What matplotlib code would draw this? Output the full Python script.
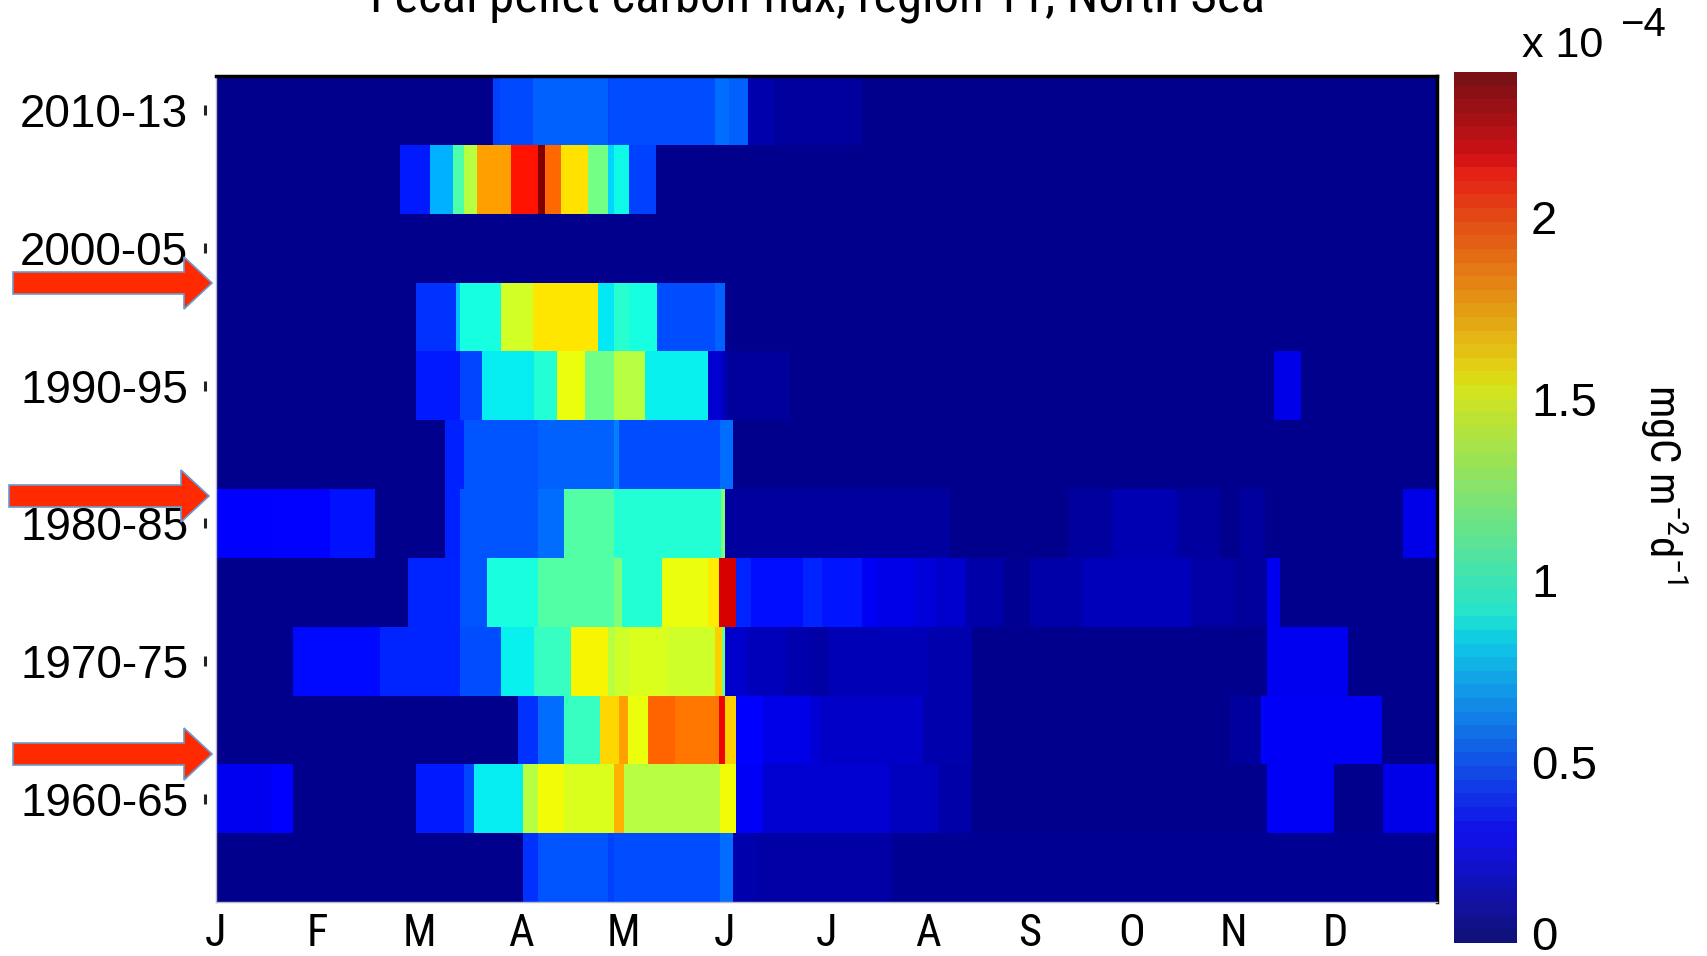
import numpy as np
import matplotlib
matplotlib.use("Agg")
import matplotlib.pyplot as plt
from matplotlib import font_manager as fm
from matplotlib.colors import Normalize, ListedColormap
from matplotlib.cm import ScalarMappable
from matplotlib.patches import FancyArrow
import matplotlib.transforms as mtrans

# ---------------- data (flux, x 1e-4 mgC m-2 d-1) ----------------
periods = ["2010-13", "2005-10", "2000-05", "1995-00", "1990-95", "1985-90",
           "1980-85", "1975-80", "1970-75", "1965-70", "1960-65", "1955-60"]
labelled_periods = ["2010-13", "2000-05", "1990-95", "1980-85", "1970-75", "1960-65"]
months = ["J", "F", "M", "A", "M", "J", "J", "A", "S", "O", "N", "D"]

# segment edges in months (0 = 1 Jan, 12 = 31 Dec) and values per segment
e_2010_13 = [0, 2.72, 2.79, 3.12, 3.85, 3.87, 4.905, 5.045, 5.23, 5.48, 6.345, 12]
v_2010_13 = [0.03, 0.45, 0.47, 0.53, 0.46, 0.48, 0.56, 0.53, 0.10, 0.07, 0.03]

e_2005_10 = [0, 1.81, 2.10, 2.33, 2.44, 2.57, 2.90, 3.16, 3.23, 3.39, 3.66, 3.85, 3.91, 4.06, 4.32, 12]
v_2005_10 = [0.03, 0.36, 0.72, 1.06, 1.37, 1.78, 2.13, 2.40, 1.92, 1.61, 1.18, 0.80, 0.89, 0.45, 0.03]

e_2000_05 = [0, 12]
v_2000_05 = [0.03]

e_1995_00 = [0, 1.97, 2.36, 2.40, 2.80, 3.12, 3.75, 3.91, 4.06, 4.33, 4.90, 5.00, 12]
v_1995_00 = [0.03, 0.42, 0.75, 0.90, 1.45, 1.60, 0.85, 0.96, 0.90, 0.48, 0.53, 0.03]

e_1990_95 = [0, 1.97, 2.40, 2.61, 3.13, 3.35, 3.63, 3.91, 4.22, 4.84, 4.98, 5.04, 5.64, 10.40, 10.66, 12]
v_1990_95 = [0.03, 0.36, 0.46, 0.86, 0.94, 1.52, 1.17, 1.37, 0.87, 0.17, 0.10, 0.06, 0.03, 0.22, 0.03]

e_1985_90 = [0, 2.25, 2.44, 3.16, 3.91, 3.96, 4.95, 5.08, 12]
v_1985_90 = [0.03, 0.38, 0.50, 0.53, 0.60, 0.48, 0.56, 0.03]

e_1980_85 = [0, 0.545, 1.12, 1.56, 2.25, 2.40, 3.16, 3.42, 3.91, 4.96, 5.00, 7.21, 8.38, 8.81,
             9.44, 9.87, 10.06, 10.31, 11.67, 12]
v_1980_85 = [0.27, 0.30, 0.34, 0.03, 0.38, 0.50, 0.56, 1.08, 0.94, 1.20, 0.07, 0.03, 0.07,
             0.11, 0.07, 0.03, 0.07, 0.03, 0.22]

e_1975_80 = [0, 1.89, 2.40, 2.66, 3.16, 3.91, 3.99, 4.38, 4.84, 4.94, 5.11, 5.26, 5.77, 5.96,
             6.345, 6.50, 6.86, 7.08, 7.37, 7.74, 8.00, 8.52, 9.58, 10.00, 10.33, 10.46, 12]
v_1975_80 = [0.03, 0.39, 0.50, 0.91, 1.08, 1.20, 0.94, 1.52, 1.58, 2.22, 0.39, 0.33, 0.39,
             0.35, 0.25, 0.22, 0.19, 0.16, 0.09, 0.04, 0.09, 0.13, 0.08, 0.06, 0.24, 0.03]

e_1970_75 = [0, 0.76, 1.61, 2.40, 2.80, 3.13, 3.49, 3.85, 3.92, 4.07, 4.43, 4.90, 4.97, 5.00,
             5.22, 5.60, 5.84, 6.02, 7.00, 7.43, 10.33, 11.13, 12]
v_1970_75 = [0.03, 0.32, 0.39, 0.48, 0.87, 1.00, 1.56, 1.37, 1.44, 1.48, 1.44, 1.65, 1.15,
             0.16, 0.13, 0.10, 0.08, 0.12, 0.10, 0.03, 0.24, 0.03]

e_1965_70 = [0, 2.97, 3.16, 3.42, 3.77, 3.96, 4.05, 4.25, 4.51, 4.94, 5.00, 5.11, 5.38, 5.84,
             5.94, 6.95, 7.43, 9.97, 10.27, 10.31, 11.46, 12]
v_1965_70 = [0.03, 0.42, 0.56, 1.00, 1.64, 1.78, 1.52, 1.93, 1.88, 2.17, 1.65, 0.27, 0.22,
             0.18, 0.15, 0.10, 0.03, 0.07, 0.30, 0.25, 0.03]

e_1960_65 = [0, 0.545, 0.76, 1.97, 2.44, 2.54, 3.02, 3.16, 3.42, 3.91, 4.01, 4.95, 5.11, 5.38,
             6.62, 7.11, 7.43, 10.33, 10.99, 11.47, 12]
v_1960_65 = [0.24, 0.27, 0.03, 0.36, 0.46, 0.86, 1.37, 1.54, 1.48, 1.73, 1.37, 1.54, 0.25,
             0.17, 0.14, 0.09, 0.03, 0.25, 0.03, 0.22]

e_1955_60 = [0, 3.02, 3.16, 3.85, 3.91, 4.95, 5.08, 5.32, 6.65, 12]
v_1955_60 = [0.03, 0.42, 0.50, 0.45, 0.48, 0.56, 0.10, 0.08, 0.04]

row_edges = [e_2010_13, e_2005_10, e_2000_05, e_1995_00, e_1990_95, e_1985_90,
             e_1980_85, e_1975_80, e_1970_75, e_1965_70, e_1960_65, e_1955_60]
row_values = [v_2010_13, v_2005_10, v_2000_05, v_1995_00, v_1990_95, v_1985_90,
              v_1980_85, v_1975_80, v_1970_75, v_1965_70, v_1960_65, v_1955_60]

vmin, vmax = 0.0, 2.4
cbar_ticks = [0, 0.5, 1, 1.5, 2]
cbar_ticklabels = ["0", "0.5", "1", "1.5", "2"]

# ---------------- fonts ----------------
names = {f.name for f in fm.fontManager.ttflist}
base_font = "Liberation Sans" if "Liberation Sans" in names else "DejaVu Sans"
narrow_font = base_font
narrow_stretch = "normal"
for cand in ["Liberation Sans Narrow", "Roboto Condensed", "Open Sans Condensed"]:
    if cand in names:
        narrow_font = cand
        break
else:
    for f in fm.fontManager.ttflist:
        if f.name == "DejaVu Sans" and str(f.stretch) in ("condensed", "semi-condensed"):
            narrow_font = "DejaVu Sans"
            narrow_stretch = "condensed"
            break

plt.rcParams["font.family"] = [base_font, "DejaVu Sans"]
plt.rcParams["mathtext.fontset"] = "custom"
plt.rcParams["mathtext.rm"] = base_font
plt.rcParams["mathtext.it"] = base_font
plt.rcParams["mathtext.default"] = "regular"

W, H, DPI = 1707, 956, 100
fig = plt.figure(figsize=(W / DPI, H / DPI), dpi=DPI)
fig.patch.set_facecolor("white")

def fx(px):
    return px / W

def fy(py):
    return 1 - py / H

# main axes
ax = fig.add_axes([fx(216), fy(902), fx(1437) - fx(216), fy(76) - fy(902)])
cmap = plt.get_cmap("jet")
norm = Normalize(vmin, vmax)
for i, (edges, vals) in enumerate(zip(row_edges, row_values)):
    ax.pcolormesh(np.array(edges), np.array([i, i + 1]), np.array(vals)[None, :],
                  cmap=cmap, norm=norm, shading="flat", antialiased=False,
                  edgecolors="none", linewidth=0)

ax.set_xlim(0, 12)
ax.set_ylim(len(periods), 0)
ax.set_xticks(np.arange(12))
ax.set_xticklabels(months, fontsize=32, family=[narrow_font, base_font],
                   fontstretch=narrow_stretch)
ypos = [periods.index(p) + 0.5 for p in labelled_periods]
ax.set_yticks(ypos)
ax.set_yticklabels(labelled_periods, fontsize=33)
ax.tick_params(axis="x", length=0, pad=8)
ax.tick_params(axis="y", length=0, pad=20)
for s in ["top", "right"]:
    ax.spines[s].set_color("black")
    ax.spines[s].set_linewidth(2.5)
for s in ["left", "bottom"]:
    ax.spines[s].set_color("#b8b8c8")
    ax.spines[s].set_linewidth(1.0)

# small tick marks offset from the axis (as in the original)
tr = mtrans.blended_transform_factory(ax.transAxes, ax.transData)
ax.plot([-0.009] * len(ypos), ypos, linestyle="none", marker="|", markersize=7,
        markeredgewidth=2.2, color="#222222", transform=tr, clip_on=False)

# colorbar (desaturated jet, 64 levels)
jet64 = plt.get_cmap("jet", 64)(np.linspace(0, 1, 64))[:, :3]
muted = 0.82 * jet64 + 0.18 * np.array([0.38, 0.38, 0.45])
cb_cmap = ListedColormap(np.clip(muted, 0, 1))
cax = fig.add_axes([fx(1454), fy(943), fx(1517) - fx(1454), fy(72) - fy(943)])
sm = ScalarMappable(norm=norm, cmap=cb_cmap)
cb = fig.colorbar(sm, cax=cax, ticks=cbar_ticks)
cb.ax.set_yticklabels(cbar_ticklabels, fontsize=34)
cb.ax.tick_params(length=0, pad=10)
cb.outline.set_visible(False)
lift0 = mtrans.ScaledTranslation(0, 10 / DPI, fig.dpi_scale_trans)
cb_labels = cb.ax.get_yticklabels()
cb_labels[0].set_transform(cb_labels[0].get_transform() + lift0)

# exponent label
fig.text(fx(1522), fy(57), "x 10", fontsize=31, ha="left", va="baseline")
fig.text(fx(1620), fy(36), "\u22124", fontsize=29, ha="left", va="baseline")

fig.text(fx(1663), fy(484), r"mgC m$^{-2}$d$^{-1}$", fontsize=31, rotation=270,
         ha="center", va="center", family=[narrow_font, base_font],
         fontstretch=narrow_stretch)

# title (cut off at the top in the original)
fig.text(fx(817), fy(13), "Fecal pellet carbon flux, region 11, North Sea",
         fontsize=36.5, ha="center", va="baseline", family=[narrow_font, base_font],
         fontstretch=narrow_stretch)

# red annotation arrows
ov = fig.add_axes([0, 0, 1, 1], zorder=10)
ov.set_xlim(0, W)
ov.set_ylim(H, 0)
ov.axis("off")
for (x0, x1, yc) in [(13, 212, 283), (9, 209, 496), (13, 212, 754)]:
    ov.add_patch(FancyArrow(x0, yc, x1 - x0, 0, width=22, head_width=52, head_length=28,
                            length_includes_head=True, facecolor="#FF2A00",
                            edgecolor="#6A9BD0", linewidth=1.2))

fig.savefig("out.png", dpi=DPI)
